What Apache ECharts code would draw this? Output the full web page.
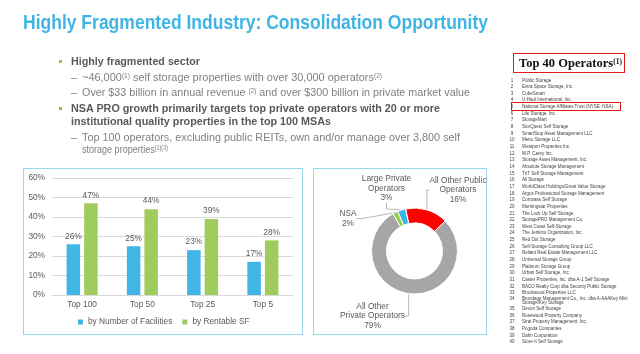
<!DOCTYPE html>
<html><head><meta charset="utf-8">
<script src="https://cdn.jsdelivr.net/npm/echarts@6/dist/echarts.min.js"></script>
<style>
html,body{margin:0;padding:0;background:#fff;}
body{width:640px;height:354px;overflow:hidden;position:relative;font-family:"Liberation Sans",Arial,Helvetica,sans-serif;}
#chart{position:absolute;left:0;top:0;width:640px;height:354px;}
.t{position:absolute;white-space:nowrap;line-height:1;transform-origin:0 0;}
.box{position:absolute;border:1.5px solid #9ad7f2;box-sizing:border-box;}
sup{font-size:0.6em;vertical-align:0.45em;line-height:0;}
.b{font-weight:bold;color:#595959;font-size:10.5px;}
.s{color:#7f7f7f;font-size:10.5px;}
.sq{position:absolute;width:3px;height:3px;background:#9bbb59;}
#list{position:absolute;left:0;top:0;width:1280px;height:708px;transform:scale(0.5);transform-origin:0 0;}
#list .n,#list .o{position:absolute;white-space:nowrap;font-size:9px;line-height:1;color:#404040;}
#list .n{width:16px;text-align:center;}
</style></head>
<body>
<div class="box" style="left:23px;top:168px;width:280px;height:167px;"></div>
<div class="box" style="left:313px;top:168px;width:174px;height:167px;"></div>
<div id="chart"></div>

<div class="t" data-w="465" style="left:23px;top:13px;font-size:19.5px;font-weight:bold;color:#41b4e6;">Highly Fragmented Industry: Consolidation Opportunity</div>

<div class="sq" style="left:59px;top:60px;"></div>
<div class="t b" data-w="129" style="left:71px;top:55.8px;">Highly fragmented sector</div>
<div class="t s" style="left:71px;top:71.8px;">–</div>
<div class="t s" data-w="300" style="left:82px;top:71.8px;">~46,000<sup>(1)</sup> self storage properties with over 30,000 operators<sup>(2)</sup></div>
<div class="t s" style="left:71px;top:86.8px;">–</div>
<div class="t s" data-w="388" style="left:82px;top:86.8px;">Over $33 billion in annual revenue <sup>(2)</sup> and over $300 billion in private market value</div>
<div class="sq" style="left:59px;top:107px;"></div>
<div class="t b" data-w="369" style="left:71px;top:102.8px;">NSA PRO growth primarily targets top private operators with 20 or more</div>
<div class="t b" data-w="260" style="left:71px;top:115.8px;">institutional quality properties in the top 100 MSAs</div>
<div class="t s" style="left:71px;top:131.8px;">–</div>
<div class="t s" data-w="378" style="left:82px;top:131.8px;">Top 100 operators, excluding public REITs, own and/or manage over 3,800 self</div>
<div class="t s" data-w="86" style="left:82px;top:143.8px;">storage properties<sup>(1)(3)</sup></div>

<div style="position:absolute;left:513px;top:53px;width:112px;height:20px;border:1.5px solid #e31a1c;box-sizing:border-box;"></div>
<div class="t" data-w="103" style="left:519px;top:56.8px;font-family:'Liberation Serif','Times New Roman',serif;font-weight:bold;font-size:12.5px;color:#111;">Top 40 Operators<sup>(1)</sup></div>
<div style="position:absolute;left:511px;top:102px;width:110px;height:8.5px;border:1.2px solid #e31a1c;box-sizing:border-box;"></div>
<div id="list"></div>

<script>
const categories = ['Top 100', 'Top 50', 'Top 25', 'Top 5'];
const seriesNames = ['by Number of Facilities', 'by Rentable SF'];
const byFacilities = [26, 25, 23, 17];
const byRentableSF = [47, 44, 39, 28];
const yTickMax = 60;
const yTickStep = 10;

const pieNames = ['All Other Public\nOperators', 'All Other\nPrivate Operators', 'NSA', 'Large Private\nOperators'];
const pieValues = [16, 79, 2, 3];

const operators = [
  'Public Storage', 'Extra Space Storage, Inc.', 'CubeSmart', 'U-Haul International, Inc.',
  'National Storage Affiliates Trust (NYSE: NSA)', 'Life Storage, Inc.', 'StorageMart',
  'StorQuest Self Storage', 'SmartStop Asset Management LLC', 'Metro Storage LLC',
  'Westport Properties Inc.', 'W.P. Carey Inc.', 'Storage Asset Management, Inc.',
  'Absolute Storage Management', 'TnT Self Storage Management', 'All Storage',
  'WorldClass Holdings/Great Value Storage', 'Argus Professional Storage Management',
  'Compass Self Storage', 'Morningstar Properties', 'The Lock Up Self Storage',
  'StoragePRO Management Co.', 'West Coast Self-Storage', 'The Jenkins Organization, Inc.',
  'Red Dot Storage', 'Self-Storage Consulting Group LLC', 'Reliant Real Estate Management LLC',
  'Universal Storage Group', 'Platinum Storage Group', 'Urban Self Storage, Inc.',
  'Caster Properties, Inc. dba A-1 Self Storage', 'BACO Realty Corp dba Security Public Storage',
  'Brookwood Properties LLC', 'Brundage Management Co., Inc. dba A-AAAKey Mini\nStorage/Key Storage',
  'Devon Self Storage', 'Rosewood Property Company', 'Strat Property Management, Inc.',
  'Pogoda Companies', 'Dahn Corporation', 'Store-It Self Storage'
];

// operators list (drawn at 2x inside a half-scale container)
(function buildList(){
  const list = document.getElementById('list');
  const row = 6.65;
  let y = 80;
  operators.forEach((name, i) => {
    const parts = name.split('\n');
    if (parts.length > 1) y += 0.85 * row - row;
    const n = document.createElement('div');
    n.className = 'n';
    n.textContent = String(i + 1);
    n.style.left = (2 * 508) + 'px';
    n.style.top = (2 * y - 4.5) + 'px';
    list.appendChild(n);
    parts.forEach((p, k) => {
      const o = document.createElement('div');
      o.className = 'o';
      o.textContent = p;
      o.style.left = (2 * 522) + 'px';
      o.style.top = (2 * (y + k * 3.8) - 4.5) + 'px';
      list.appendChild(o);
    });
    if (parts.length > 1) y += 3.8 + 0.95 * row; else y += row;
  });
})();

function fit(){
  document.querySelectorAll('[data-w]').forEach(el => {
    el.style.transform = 'none';
    const w = el.getBoundingClientRect().width;
    const target = parseFloat(el.dataset.w);
    if (w > 0) el.style.transform = 'scaleX(' + (target / w) + ')';
  });
}
fit();
if (document.fonts && document.fonts.ready) document.fonts.ready.then(fit);

const pieColors = ['#ff0000', '#a6a6a6', '#92d050', '#3cb4e5'];
const pieLabelPos = [[458, 190], [372.5, 316], [348, 218.5], [386.5, 188.7]];
const txt = '#595959';
const FS = 8.3;

const chart = echarts.init(document.getElementById('chart'));
chart.setOption({
  animation: false,
  textStyle: { fontFamily: '"Liberation Sans", Arial, sans-serif' },
  legend: {
    data: seriesNames, left: 78, top: 318, itemWidth: 5, itemHeight: 5, icon: 'rect',
    itemGap: 10, padding: 0, textStyle: { fontSize: FS, color: txt }
  },
  grid: { left: 52, right: 347, top: 178, bottom: 59 },
  xAxis: {
    type: 'category', data: categories,
    axisLine: { lineStyle: { color: '#d9d9d9' } }, axisTick: { show: false },
    axisLabel: { color: txt, fontSize: FS, margin: 6 }
  },
  yAxis: {
    type: 'value', min: 0, max: yTickMax, interval: yTickStep,
    axisLabel: { formatter: '{value}%', color: txt, fontSize: FS, margin: 7 },
    splitLine: { lineStyle: { color: '#d9d9d9' } },
    axisLine: { show: false }, axisTick: { show: false }
  },
  series: [
    {
      name: seriesNames[0], type: 'bar', data: byFacilities, barWidth: 13.5, barGap: '30%',
      itemStyle: { color: '#40b5e6' },
      label: { show: true, position: 'top', distance: 4, formatter: '{c}%', color: txt, fontSize: FS }
    },
    {
      name: seriesNames[1], type: 'bar', data: byRentableSF, barWidth: 13.5, barGap: '30%',
      itemStyle: { color: '#a0cc5e' },
      label: { show: true, position: 'top', distance: 4, formatter: '{c}%', color: txt, fontSize: FS }
    },
    {
      type: 'pie', center: [414.5, 251], radius: [28, 43], startAngle: 102, clockwise: true,
      avoidLabelOverlap: false, emphasis: { disabled: true },
      data: pieNames.map((n, i) => ({ name: n, value: pieValues[i], itemStyle: { color: pieColors[i] } })),
      itemStyle: { borderColor: '#fff', borderWidth: 1 },
      label: {
        show: true, position: 'outside', formatter: '{b}\n{c}%',
        color: txt, fontSize: FS, lineHeight: 9.5, align: 'center'
      },
      labelLine: { show: true, length: 6, length2: 6, lineStyle: { color: '#a6a6a6', width: 0.8 } },
      labelLayout: p => ({
        x: pieLabelPos[p.dataIndex][0], y: pieLabelPos[p.dataIndex][1],
        align: 'center', verticalAlign: 'middle'
      })
    }
  ]
});
</script>
</body></html>
